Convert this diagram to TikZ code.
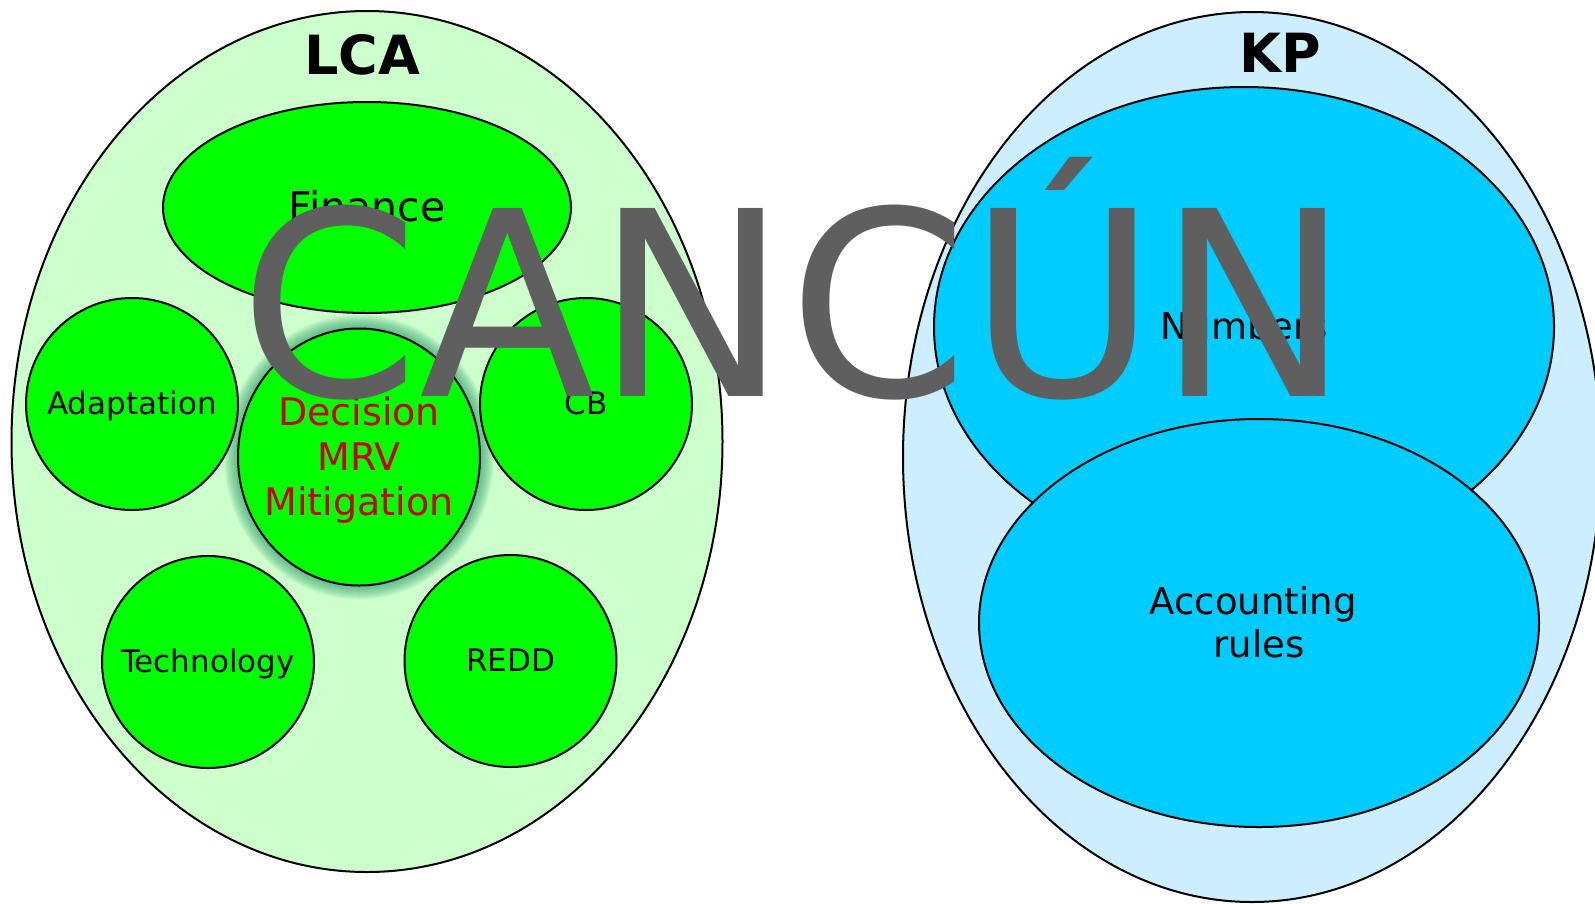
\documentclass[tikz,border=0pt]{standalone}
\usepackage{fontspec}
\setmainfont{DejaVu Sans}
\usetikzlibrary{shapes.geometric}
\definecolor{lcabg}{HTML}{CCFFCC}
\definecolor{gfill}{HTML}{00FF00}
\definecolor{kpbg}{HTML}{CCEEFF}
\definecolor{bfill}{HTML}{00CCFF}
\definecolor{redtxt}{HTML}{CC0000}
\definecolor{bigtxt}{HTML}{5F5F5F}
\definecolor{glowc}{RGB}{30,150,100}
\newcommand{\tst}{\rule{0pt}{0.928em}}
\newcommand{\bst}{\rule[-0.236em]{0pt}{0pt}}
\begin{document}
\begin{tikzpicture}[x=1pt,y=-1pt,
  blob/.style={ellipse, draw=black, line width=2pt, inner xsep=-80pt, inner ysep=-40pt, outer sep=0pt, align=center},
  smallc/.style={blob, fill=gfill, minimum width=212pt, minimum height=212pt, font=\fontsize{31}{36}\selectfont},
  titletxt/.style={font=\fontsize{54}{60}\selectfont\bfseries, anchor=base, inner sep=0pt}]
\useasboundingbox (0,0) rectangle (1595,903);
\fill[white] (0,0) rectangle (1595,903);
% LCA
\node[blob, fill=lcabg, minimum width=711pt, minimum height=861pt] (lca) at (367,441.5) {};
\coordinate (decc) at (359,457);
\foreach \i in {1,...,15}
  \fill[glowc, opacity=0.058] (decc) ellipse [x radius={120+\i}, y radius={127.5+\i}];
\node[blob, fill=gfill, minimum width=408pt, minimum height=211pt, font=\fontsize{41}{48}\selectfont] (fin) at (367,207.5) {\tst\bst Finance};
\node[smallc] (adapt) at (132,404) {\tst\bst Adaptation};
\node[smallc] (cb) at (586,404) {\tst\bst CB};
\node[smallc] (tech) at (208,662) {\tst\bst Technology};
\node[smallc] (redd) at (510.5,661) {\tst\bst REDD};
\node[blob, fill=gfill, minimum width=242pt, minimum height=257pt, text=redtxt, font=\fontsize{38}{45}\selectfont] (dec) at (decc) {\tst Decision\\MRV\\Mitigation\bst};
% KP
\node[blob, fill=kpbg, minimum width=698pt, minimum height=890pt] (kp) at (1252,457) {};
\node[blob, fill=bfill, minimum width=620pt, minimum height=480pt, font=\fontsize{37}{43}\selectfont] (num) at (1244,327) {\tst\bst Numbers};
\node[blob, fill=bfill, minimum width=560pt, minimum height=408pt, font=\fontsize{37}{43.5}\selectfont] (acc) at (1259,623) {\tst Accounting\hspace*{0.318em}\\rules\bst};
% titles
\node[titletxt] (lcat) at (362,74) {LCA};
\node[titletxt] (kpt) at (1280,72) {KP};
\node[font=\fontsize{258}{300}\selectfont, text=bigtxt, anchor=base, inner sep=0pt] (cancun) at (795,396) {CANCÚN};
\end{tikzpicture}
\end{document}
